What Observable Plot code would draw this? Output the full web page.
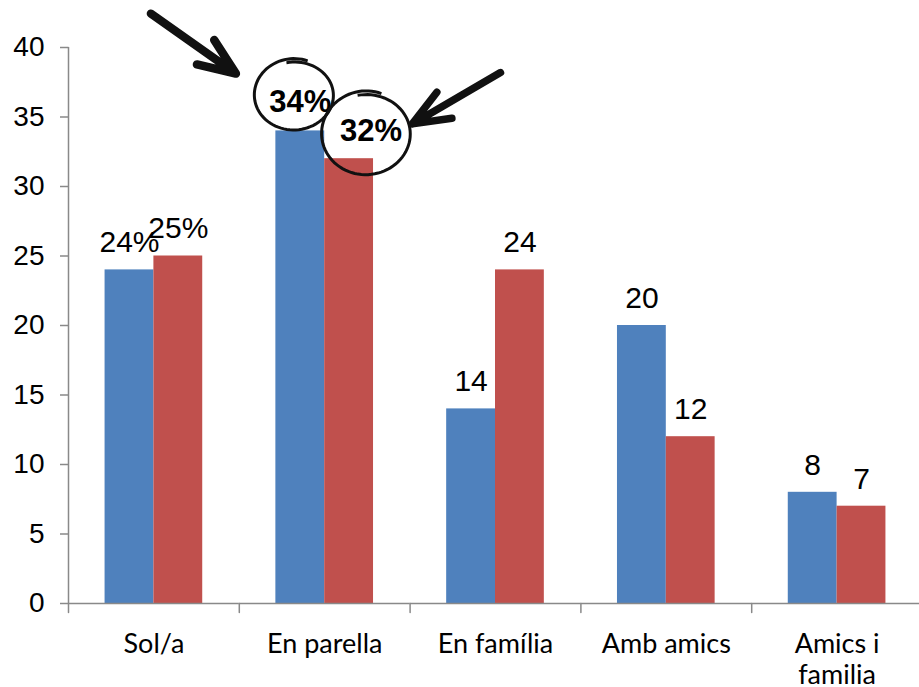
<!DOCTYPE html>
<html>
<head>
<meta charset="utf-8">
<script src="https://cdn.jsdelivr.net/npm/d3@7"></script>
<script src="https://cdn.jsdelivr.net/npm/@observablehq/plot@0.6"></script>
<style>
  html, body { margin: 0; padding: 0; background: #ffffff; }
  #chart svg { display: block; }
</style>
</head>
<body>
<div id="chart"></div>
<script>
// ---- data ----
const categories = ["Sol/a", "En parella", "En família", "Amb amics", "Amics i familia"];
const categoryTickLabels = ["Sol/a", "En parella", "En família", "Amb amics", "Amics i\nfamilia"];
const seriesNames = ["Sèrie 1", "Sèrie 2"];
const seriesColors = ["#4F81BD", "#C0504D"];
const valuesSeries1 = [24, 34, 14, 20, 8];
const valuesSeries2 = [25, 32, 24, 12, 7];
const labelsSeries1 = ["24%", "34%", "14", "20", "8"];
const labelsSeries2 = ["25%", "32%", "24", "12", "7"];
const highlightCategory = "En parella";
const yTicks = [0, 5, 10, 15, 20, 25, 30, 35, 40];

const rows = categories.flatMap((c, i) => [
  {cat: c, series: seriesNames[0], value: valuesSeries1[i], label: labelsSeries1[i]},
  {cat: c, series: seriesNames[1], value: valuesSeries2[i], label: labelsSeries2[i]}
]);
const normalRows = rows.filter(d => d.cat !== highlightCategory);
const hlFirst = rows.filter(d => d.cat === highlightCategory && d.series === seriesNames[0]);
const hlSecond = rows.filter(d => d.cat === highlightCategory && d.series === seriesNames[1]);

// ---- layout ----
const W = 919, H = 687, MT = 47, MB = 84, ML = 68, MR = -3;
const axisGray = "#898989";
const ink = "#111111";

// ---- custom shapes ----
const lineShape = {draw(ctx, l) { ctx.moveTo(0, 0); ctx.lineTo(0, -l); }};
const arrowShape = {draw(ctx, l) {
  const w = 40, a = 22 * Math.PI / 180;
  ctx.moveTo(0, 0); ctx.lineTo(0, -l);
  ctx.moveTo(-w * Math.sin(a), -l + w * Math.cos(a));
  ctx.lineTo(0, -l);
  ctx.lineTo(w * Math.sin(a), -l + w * Math.cos(a));
}};
function handEllipse(ratio) {
  return {draw(ctx, size) {
    const r = Math.sqrt(size / Math.PI);
    const n = 90, start = -1.75, sweep = 2 * Math.PI + 0.55;
    for (let k = 0; k <= n; k++) {
      const t = start + sweep * k / n;
      const f = k / n;
      const x = r * ratio * (1 - 0.03 * f) * Math.cos(t);
      const y = r * (1 + 0.05 * f) * Math.sin(t) - 2 * f;
      if (k === 0) ctx.moveTo(x, y); else ctx.lineTo(x, y);
    }
  }};
}

const chart = Plot.plot({
  width: W,
  height: H,
  marginTop: MT,
  marginBottom: MB,
  marginLeft: ML,
  marginRight: MR,
  style: {fontFamily: "'Liberation Sans', Arial, sans-serif", background: "#ffffff", overflow: "visible", color: "#000"},
  fx: {domain: categories, padding: 0, label: null, round: false},
  x: {domain: seriesNames, paddingInner: 0, paddingOuter: 0.749, axis: null, round: false},
  y: {domain: [0, 40], label: null},
  color: {domain: seriesNames, range: seriesColors},
  marks: [
    Plot.barY(rows, {fx: "cat", x: "series", y: "value", fill: "series"}),
    Plot.ruleY([0], {stroke: axisGray, strokeWidth: 1.5}),
    Plot.vector([categories[0]], {fx: d => d, frameAnchor: "bottom-left", anchor: "start",
      length: H - MT - MB, rotate: 0, shape: lineShape, stroke: axisGray, strokeWidth: 1.5}),
    Plot.vector(categories, {fx: d => d, frameAnchor: "bottom-left", anchor: "start",
      length: 9, rotate: 180, shape: lineShape, stroke: axisGray, strokeWidth: 1.5}),
    Plot.axisY({ticks: yTicks, tickSize: 8, tickPadding: 16, stroke: axisGray, strokeWidth: 1.5,
      fill: "#000", fontSize: 28, label: null, tickFormat: d => String(d)}),
    Plot.axisFx({anchor: "bottom", tickSize: 0, tickPadding: 27, fontSize: 27, fontFamily: "Lato, 'Open Sans', sans-serif",
      lineHeight: 1.15, fill: "#000", label: null,
      tickFormat: d => categoryTickLabels[categories.indexOf(d)]}),
    Plot.text(normalRows, {fx: "cat", x: "series", y: "value", text: "label",
      lineAnchor: "bottom", dy: -17.6, fontSize: 30, fill: "#000"}),
    Plot.text(hlFirst, {fx: "cat", x: "series", y: "value", text: "label",
      lineAnchor: "bottom", dy: -18.6, fontSize: 31, fontWeight: "bold", fill: "#000"}),
    Plot.text(hlSecond, {fx: "cat", x: "series", y: "value", text: "label",
      lineAnchor: "bottom", dy: -18, dx: 22, fontSize: 31, fontWeight: "bold", fill: "#000"}),
    Plot.dot(hlFirst, {fx: "cat", x: "series", y: "value", dx: -6.7, dy: -34.8, r: 34,
      symbol: handEllipse(1.18), stroke: ink, strokeWidth: 3, fill: "none"}),
    Plot.dot(hlSecond, {fx: "cat", x: "series", y: "value", dx: 16.5, dy: -24, r: 40,
      symbol: handEllipse(1.125), stroke: ink, strokeWidth: 3, fill: "none"}),
    Plot.vector(hlFirst, {fx: "cat", x: "series", y: "value", dx: -64.4, dy: -57.3,
      anchor: "end", length: 104, rotate: 125.2, shape: arrowShape,
      stroke: ink, strokeWidth: 8.5, strokeLinecap: "round", strokeLinejoin: "round"}),
    Plot.vector(hlSecond, {fx: "cat", x: "series", y: "value", dx: 63.2, dy: -34.8,
      anchor: "end", length: 102, rotate: -120.2, shape: arrowShape,
      stroke: ink, strokeWidth: 7.5, strokeLinecap: "round", strokeLinejoin: "round"})
  ]
});
document.getElementById("chart").appendChild(chart);
</script>
</body>
</html>
